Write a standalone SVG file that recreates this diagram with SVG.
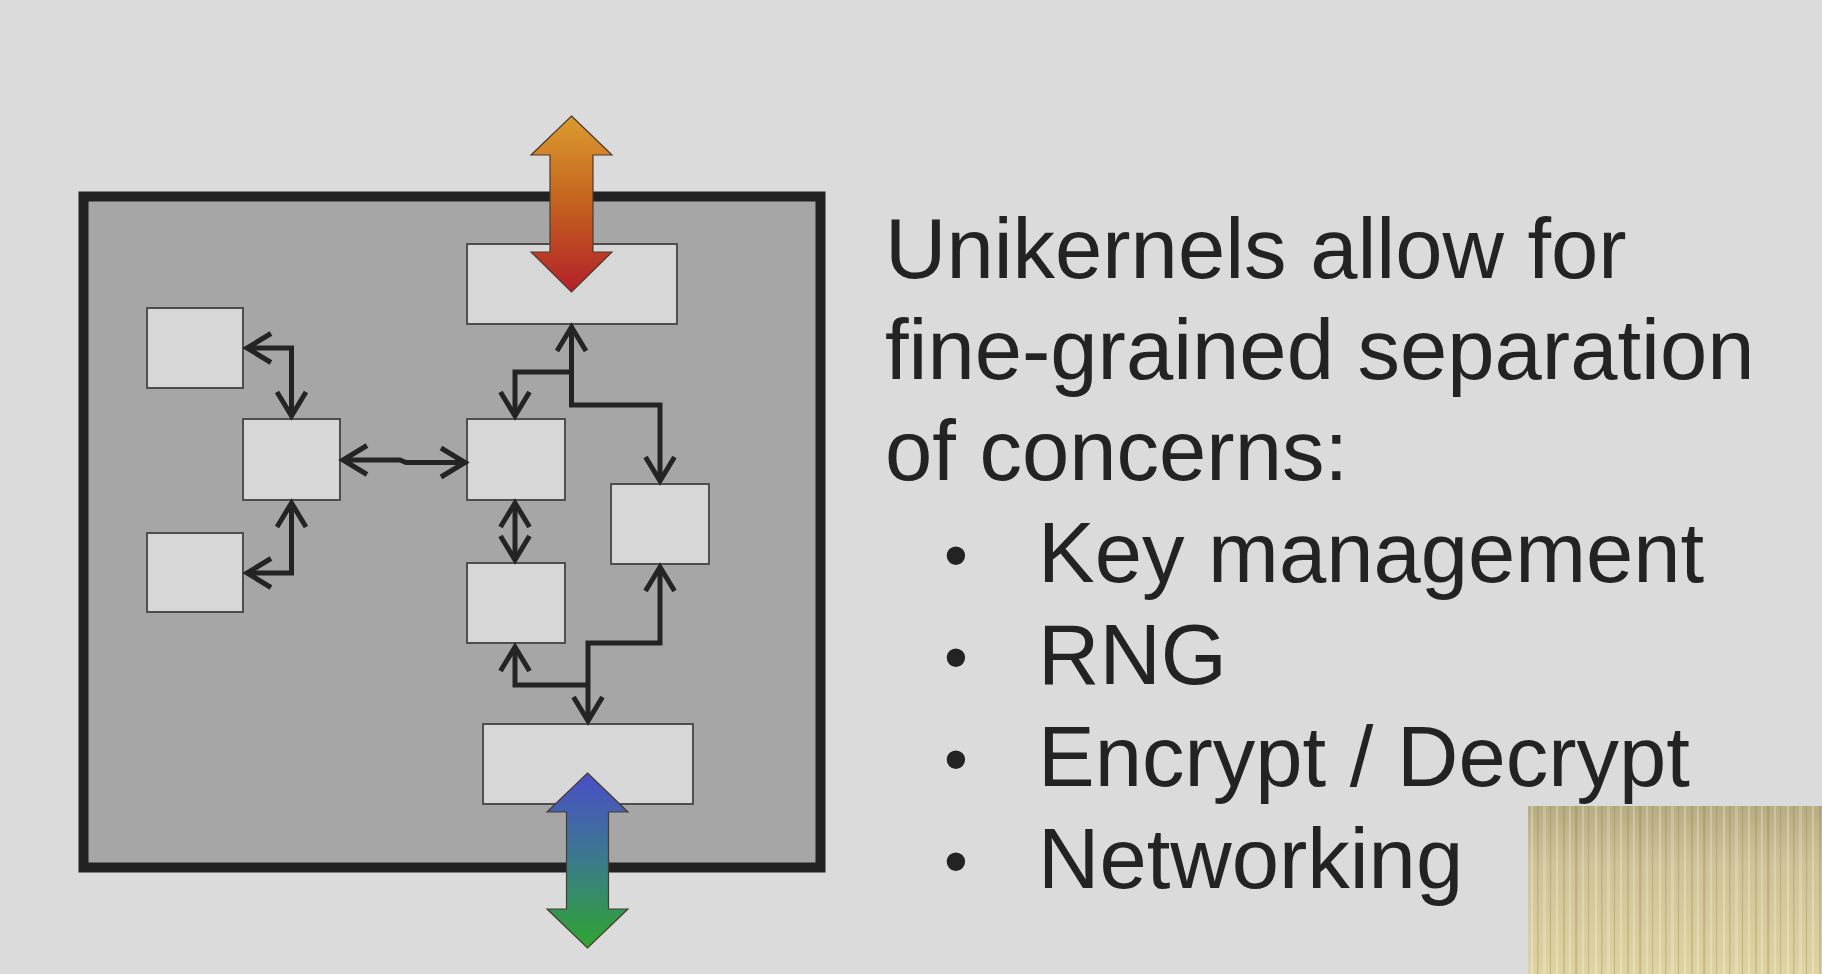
<svg xmlns="http://www.w3.org/2000/svg" width="1822" height="974" viewBox="0 0 1822 974">
  <style>
    .box { fill: #d7d7d7; stroke: #4e4e4e; stroke-width: 2; }
    .link { fill: none; stroke: #242424; stroke-width: 5; stroke-linejoin: miter; }
    .txt { font-family: "Liberation Sans", Arial, sans-serif; font-size: 85px; fill: #232323; }
    .dot { font-family: "Liberation Sans", Arial, sans-serif; font-size: 68px; fill: #232323; }
    .bigarrow { stroke: #4a3a30; stroke-width: 1.2; stroke-linejoin: miter; }
  </style>
  <defs>
    <marker id="head" viewBox="-32 -20 38 40" refX="0" refY="0" markerWidth="38" markerHeight="40" markerUnits="userSpaceOnUse" orient="auto-start-reverse">
      <path d="M-24,-14.5 L0,0 L-24,14.5" fill="none" stroke="#242424" stroke-width="5" stroke-linejoin="miter"/>
    </marker>
    <linearGradient id="warm" x1="0" y1="116" x2="0" y2="292" gradientUnits="userSpaceOnUse">
      <stop offset="0" stop-color="#dc9a2e"/>
      <stop offset="0.5" stop-color="#c4621f"/>
      <stop offset="1" stop-color="#b3202a"/>
    </linearGradient>
    <linearGradient id="cool" x1="0" y1="773" x2="0" y2="948" gradientUnits="userSpaceOnUse">
      <stop offset="0" stop-color="#4a4ec8"/>
      <stop offset="0.5" stop-color="#3b7a8c"/>
      <stop offset="1" stop-color="#2ea62e"/>
    </linearGradient>
    <linearGradient id="gold" x1="0" y1="806" x2="0" y2="974" gradientUnits="userSpaceOnUse">
      <stop offset="0" stop-color="#b8ad82"/>
      <stop offset="0.35" stop-color="#cfc397"/>
      <stop offset="1" stop-color="#e0d3a2"/>
    </linearGradient>
    <pattern id="streaks" x="1528" y="0" width="64" height="974" patternUnits="userSpaceOnUse">
      <rect x="3" width="2" height="974" fill="#ffffff" opacity="0.28"/>
      <rect x="9" width="1.5" height="974" fill="#6e5e36" opacity="0.22"/>
      <rect x="15" width="3" height="974" fill="#ffffff" opacity="0.2"/>
      <rect x="22" width="1" height="974" fill="#6e5e36" opacity="0.26"/>
      <rect x="28" width="2" height="974" fill="#ffffff" opacity="0.26"/>
      <rect x="35" width="2" height="974" fill="#6e5e36" opacity="0.18"/>
      <rect x="41" width="1.5" height="974" fill="#ffffff" opacity="0.3"/>
      <rect x="47" width="2.5" height="974" fill="#6e5e36" opacity="0.2"/>
      <rect x="54" width="2" height="974" fill="#ffffff" opacity="0.22"/>
      <rect x="60" width="1" height="974" fill="#6e5e36" opacity="0.24"/>
    </pattern>
  </defs>

  <!-- slide background -->
  <rect x="0" y="0" width="1822" height="974" fill="#dbdbdb"/>

  <!-- enclosing unikernel frame -->
  <g id="frame">
    <rect x="83.5" y="196.5" width="737" height="671" fill="#a6a6a6" stroke="#222222" stroke-width="10"/>
  </g>

  <!-- component boxes -->
  <g id="io-top"><rect class="box" x="467" y="244" width="210" height="80"/></g>
  <g id="left-top"><rect class="box" x="147" y="308" width="96" height="80"/></g>
  <g id="left-mid"><rect class="box" x="243" y="419" width="97" height="81"/></g>
  <g id="left-bottom"><rect class="box" x="147" y="533" width="96" height="79"/></g>
  <g id="center-top"><rect class="box" x="467" y="419" width="98" height="81"/></g>
  <g id="center-bottom"><rect class="box" x="467" y="563" width="98" height="80"/></g>
  <g id="right"><rect class="box" x="611" y="484" width="98" height="80"/></g>
  <g id="io-bottom"><rect class="box" x="483" y="724" width="210" height="80"/></g>

  <!-- internal connectors -->
  <g id="connectors">
    <path class="link" d="M571.5,327 V405 H660 V481" marker-start="url(#head)" marker-end="url(#head)"/>
    <path class="link" d="M571.5,372 H515 V416" marker-end="url(#head)"/>
    <path class="link" d="M515,503 V560" marker-start="url(#head)" marker-end="url(#head)"/>
    <path class="link" d="M660,567 V643 H588 V721" marker-start="url(#head)" marker-end="url(#head)"/>
    <path class="link" d="M515,647 V685 H588"  marker-start="url(#head)"/>
    <path class="link" d="M247,348 H291.5 V416" marker-start="url(#head)" marker-end="url(#head)"/>
    <path class="link" d="M291.5,503 V573 H247" marker-start="url(#head)" marker-end="url(#head)"/>
    <path class="link" d="M343,460 H400 L406,462.5 H465" marker-start="url(#head)" marker-end="url(#head)"/>
  </g>

  <!-- external channels -->
  <g id="channel-top">
    <polygon class="bigarrow" fill="url(#warm)" points="571.5,116 612,155 593,155 593,252 612,252 571.5,292 531,252 550,252 550,155 531,155"/>
  </g>
  <g id="channel-bottom">
    <polygon class="bigarrow" fill="url(#cool)" points="587.5,773 628,812 608.5,812 608.5,909 628,909 587.5,948 547,909 566.5,909 566.5,812 547,812"/>
  </g>

  <!-- slide text -->
  <g id="caption">
    <text class="txt" x="885" y="278">Unikernels allow for</text>
    <text class="txt" x="885" y="379">fine-grained separation</text>
    <text class="txt" x="885" y="480">of concerns:</text>
    <text class="dot" x="944" y="578">•</text>
    <text class="txt" x="1038" y="582">Key management</text>
    <text class="dot" x="944" y="680">•</text>
    <text class="txt" x="1038" y="684">RNG</text>
    <text class="dot" x="944" y="782">•</text>
    <text class="txt" x="1038" y="786">Encrypt / Decrypt</text>
    <text class="dot" x="944" y="884">•</text>
    <text class="txt" x="1038" y="888">Networking</text>
  </g>

  <!-- brushed gold panel, lower right -->
  <g id="gold-panel">
    <rect x="1528" y="806" width="294" height="168" fill="url(#gold)"/>
    <rect x="1528" y="806" width="294" height="168" fill="url(#streaks)"/>
  </g>
</svg>
